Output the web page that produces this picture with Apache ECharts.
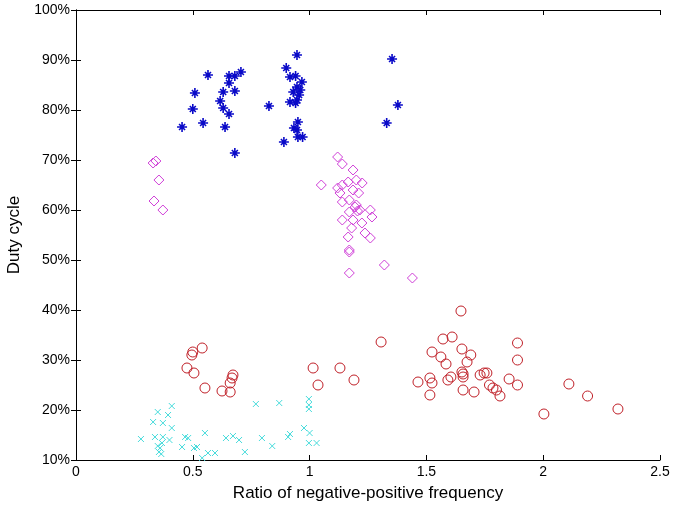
<!DOCTYPE html>
<html>
<head>
<meta charset="utf-8">
<script src="https://cdn.jsdelivr.net/npm/echarts@6/dist/echarts.min.js"></script>
<style>
  html, body { margin: 0; padding: 0; background: #fff; }
  #chart { width: 674px; height: 508px; }
</style>
</head>
<body>
<div id="chart"></div>
<script>
// [ratio, duty cycle %]
var starPoints = [
  [0.565, 87], [0.655, 86.8], [0.68, 86.8], [0.706, 87.6], [0.655, 85.4],
  [0.509, 83.4], [0.63, 83.6], [0.68, 83.8], [0.617, 81.8], [0.50, 80.2],
  [0.63, 80.4], [0.655, 79.2], [0.826, 80.8], [0.454, 76.6], [0.544, 77.4],
  [0.638, 76.6], [0.68, 71.4], [0.946, 91], [0.90, 88.4], [0.916, 86.6],
  [0.94, 86.8], [0.967, 85.6], [0.946, 84.6], [0.93, 83.6], [0.96, 84],
  [0.916, 81.6], [0.946, 82], [0.94, 81.4], [0.955, 83], [0.95, 77.6],
  [0.933, 76.4], [0.946, 76], [0.95, 74.6], [0.97, 74.6], [0.89, 73.6],
  [1.353, 90.2], [1.378, 81], [1.33, 77.4]
];
var diamondPoints = [
  [0.33, 69.4], [0.342, 69.8], [0.355, 66], [0.334, 61.8], [0.372, 60],
  [1.12, 70.6], [1.14, 69.2], [1.186, 68], [1.05, 65], [1.12, 64.4],
  [1.14, 65], [1.165, 65.6], [1.20, 66], [1.225, 65.4], [1.13, 63.4],
  [1.186, 64], [1.21, 63.4], [1.14, 61.6], [1.17, 62], [1.195, 60.6],
  [1.215, 60], [1.26, 60], [1.17, 59.6], [1.267, 58.6], [1.14, 58],
  [1.186, 58], [1.18, 56.4], [1.224, 57.4], [1.237, 55.4], [1.26, 54.4],
  [1.165, 54.6], [1.17, 52], [1.17, 51.6], [1.32, 49], [1.17, 47.4],
  [1.44, 46.4], [1.2, 61], [1.205, 59.8]
];
var circlePoints = [
  [0.54, 32.4], [0.50, 31.6], [0.496, 31], [0.475, 28.4], [0.505, 27.4],
  [0.552, 24.4], [0.672, 27], [0.668, 26.4], [0.66, 25.4], [0.625, 23.8],
  [0.66, 23.6], [1.015, 28.4], [1.036, 25], [1.306, 33.6], [1.13, 28.4],
  [1.19, 26], [1.571, 34.2], [1.61, 34.6], [1.524, 31.6], [1.562, 30.6],
  [1.584, 29.2], [1.652, 32.2], [1.69, 31], [1.674, 29.6], [1.464, 25.6],
  [1.515, 26.4], [1.524, 25.4], [1.592, 26], [1.605, 26.6], [1.652, 27.6],
  [1.657, 27.2], [1.657, 26.6], [1.515, 23], [1.657, 24], [1.704, 23.6],
  [1.73, 27], [1.648, 39.8], [1.89, 33.4], [1.89, 30], [1.747, 27.4],
  [1.759, 27.4], [1.77, 25], [1.785, 24.4], [1.80, 24], [1.815, 22.8],
  [1.854, 26.2], [1.89, 25], [2.11, 25.2], [2.19, 22.8], [2.003, 19.2],
  [2.32, 20.2]
];
var crossPoints = [
  [0.41, 20.8], [0.35, 19.6], [0.394, 19], [0.33, 17.6], [0.372, 17.4],
  [0.41, 16.4], [0.278, 14.2], [0.338, 14.6], [0.372, 14.6], [0.40, 14],
  [0.368, 13.4], [0.36, 12.4], [0.355, 11.6], [0.35, 12.8], [0.365, 11.2],
  [0.467, 14.6], [0.48, 14.4], [0.454, 12.6], [0.505, 12.4], [0.518, 12.6],
  [0.552, 15.4], [0.54, 10.4], [0.565, 11.4], [0.595, 11.4], [0.642, 14.4],
  [0.672, 14.8], [0.77, 21.2], [0.87, 21.4], [0.997, 22.2], [0.997, 21],
  [0.997, 20.2], [0.698, 14], [0.723, 11.6], [0.796, 14.4], [0.84, 12.8],
  [0.908, 14.6], [0.916, 15.2], [0.976, 16.4], [1.0, 15.4], [0.997, 13.4],
  [1.03, 13.4]
];

var xTicks = { min: 0, max: 2.5, interval: 0.5 };
var yTicks = { min: 10, max: 100, interval: 10 };

var starPath = 'path://M0,-1L0,1M-1,0L1,0M-0.6,-0.6L0.6,0.6M-0.6,0.6L0.6,-0.6';
var crossPath = 'path://M-1,-1L1,1M-1,1L1,-1';

var fontFamily = 'Liberation Sans, Arial, sans-serif';
var lineStyle = { color: '#000', width: 1 };

var chart = echarts.init(document.getElementById('chart'));
chart.setOption({
  animation: false,
  backgroundColor: '#fff',
  grid: { left: 76, right: 14, top: 10, bottom: 48, outerBoundsMode: 'none' },
  xAxis: [
    {
      type: 'value', min: xTicks.min, max: xTicks.max, interval: xTicks.interval,
      name: 'Ratio of negative-positive frequency', nameLocation: 'middle', nameGap: 25,
      nameTextStyle: { fontFamily: fontFamily, fontSize: 17, color: '#000' },
      axisLine: { lineStyle: lineStyle },
      axisTick: { inside: true, length: 5, lineStyle: lineStyle },
      axisLabel: { fontFamily: fontFamily, fontSize: 14, color: '#000', margin: 5 },
      splitLine: { show: false }
    },
    {
      type: 'value', position: 'top', min: xTicks.min, max: xTicks.max, interval: xTicks.interval,
      axisLine: { lineStyle: lineStyle },
      axisTick: { inside: true, length: 5, lineStyle: lineStyle },
      axisLabel: { show: false },
      splitLine: { show: false }
    }
  ],
  yAxis: [
    {
      type: 'value', min: yTicks.min, max: yTicks.max, interval: yTicks.interval,
      name: 'Duty cycle', nameLocation: 'middle', nameGap: 46,
      nameTextStyle: { fontFamily: fontFamily, fontSize: 17, color: '#000' },
      axisLine: { lineStyle: lineStyle },
      axisTick: { inside: true, length: 5, lineStyle: lineStyle },
      axisLabel: { fontFamily: fontFamily, fontSize: 14, color: '#000', margin: 6, formatter: '{value}%' },
      splitLine: { show: false }
    },
    {
      type: 'value', position: 'right', min: yTicks.min, max: yTicks.max, interval: yTicks.interval,
      axisLine: { lineStyle: lineStyle },
      axisTick: { inside: true, length: 5, lineStyle: lineStyle },
      axisLabel: { show: false },
      splitLine: { show: false }
    }
  ],
  series: [
    {
      name: 'star', type: 'scatter', data: starPoints, symbol: starPath, symbolSize: 10,
      itemStyle: { color: 'none', borderColor: '#0a0ac8', borderWidth: 1.6, opacity: 1 }
    },
    {
      name: 'diamond', type: 'scatter', data: diamondPoints, symbol: 'diamond', symbolSize: 10,
      itemStyle: { color: 'none', borderColor: '#d040d8', borderWidth: 1, opacity: 1 }
    },
    {
      name: 'circle', type: 'scatter', data: circlePoints, symbol: 'circle', symbolSize: 10,
      itemStyle: { color: 'none', borderColor: '#c02028', borderWidth: 1, opacity: 1 }
    },
    {
      name: 'cross', type: 'scatter', data: crossPoints, symbol: crossPath, symbolSize: 6,
      itemStyle: { color: 'none', borderColor: '#48dcdc', borderWidth: 1, opacity: 1 }
    }
  ]
});
</script>
</body>
</html>
